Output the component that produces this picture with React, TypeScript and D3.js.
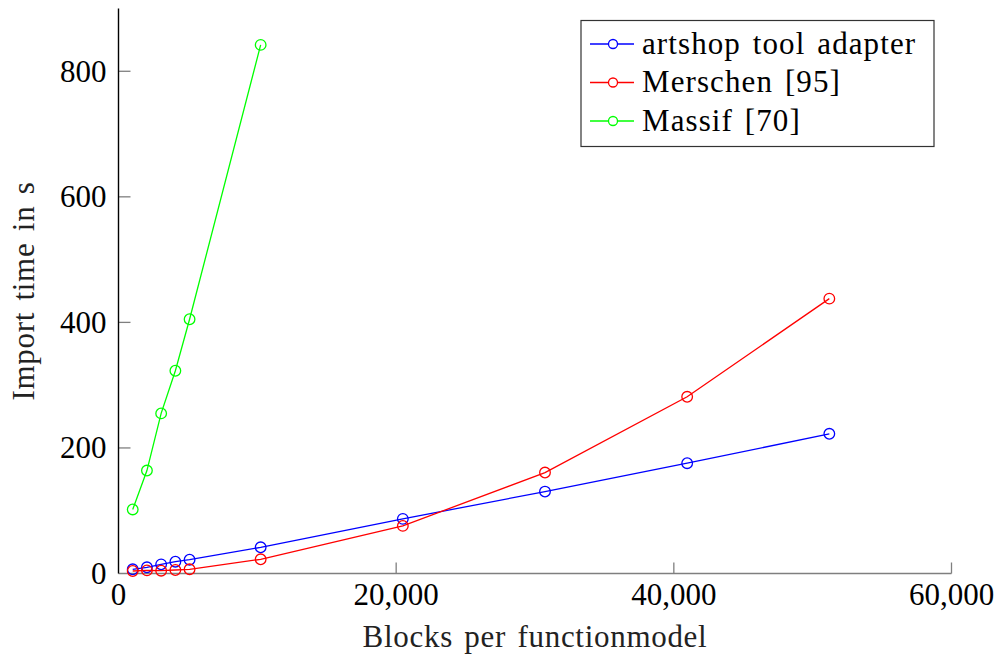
import React, { useRef, useEffect } from 'react';
import * as d3 from 'd3';

const WIDTH = 998;
const HEIGHT = 661;
const MARGIN = { top: 8.5, right: 46.5, bottom: 87.5, left: 118.5 };
const FONT = "'Liberation Serif', 'DejaVu Serif', serif";

// Blocks per functionmodel
const blocks = [1024, 2048, 3072, 4096, 5120, 10240, 20480, 30720, 40960, 51200];
// Import time in s
const artshop = [6.7, 9.9, 14.6, 18.8, 22, 41.7, 87, 130.5, 175.7, 222.5];
const merschen = [4, 5, 4.5, 5.6, 6.7, 22.6, 75.8, 160.8, 281.5, 437.8];
const massifBlocks = [1024, 2048, 3072, 4096, 5120, 10240];
const massif = [102, 164, 255, 323, 405, 842];

const xTicks = [0, 20000, 40000, 60000];
const yTicks = [0, 200, 400, 600, 800];

const seriesList = [
  { name: 'artshop tool adapter', color: '#0000ff', xs: blocks, ys: artshop },
  { name: 'Merschen [95]', color: '#ff0000', xs: blocks, ys: merschen },
  { name: 'Massif [70]', color: '#00ff00', xs: massifBlocks, ys: massif },
];

export default function App() {
  const svgRef = useRef<SVGSVGElement>(null);

  useEffect(() => {
    if (!svgRef.current) return;
    const innerW = WIDTH - MARGIN.left - MARGIN.right;
    const innerH = HEIGHT - MARGIN.top - MARGIN.bottom;

    const x = d3.scaleLinear().domain([0, 60000]).range([0, innerW]);
    const y = d3.scaleLinear().domain([0, 900]).range([innerH, 0]);

    const svg = d3.select(svgRef.current);
    svg.selectAll('*').remove();
    svg.append('rect').attr('width', WIDTH).attr('height', HEIGHT).attr('fill', 'white');

    const g = svg.append('g').attr('transform', `translate(${MARGIN.left},${MARGIN.top})`);

    // x axis (gray line, inward ticks)
    g.append('line')
      .attr('x1', 0).attr('x2', innerW)
      .attr('y1', innerH).attr('y2', innerH)
      .attr('stroke', '#7f7f7f').attr('stroke-width', 1.6);
    g.append('g').selectAll('line')
      .data(xTicks.filter(d => d > 0))
      .join('line')
      .attr('x1', d => x(d)).attr('x2', d => x(d))
      .attr('y1', innerH).attr('y2', innerH - 11)
      .attr('stroke', '#7f7f7f').attr('stroke-width', 1.3);
    g.append('g').selectAll('text')
      .data(xTicks)
      .join('text')
      .attr('x', d => x(d)).attr('y', innerH + 31.5)
      .attr('text-anchor', 'middle')
      .style('font-family', FONT).style('font-size', '31px').attr('fill', '#000')
      .text(d => d3.format(',')(d));

    // y axis (black line, inward ticks)
    g.append('g').selectAll('line')
      .data(yTicks.filter(d => d > 0))
      .join('line')
      .attr('x1', 0).attr('x2', 12)
      .attr('y1', d => y(d)).attr('y2', d => y(d))
      .attr('stroke', '#7f7f7f').attr('stroke-width', 1.3);
    g.append('line')
      .attr('x1', 0).attr('x2', 0)
      .attr('y1', 0).attr('y2', innerH)
      .attr('stroke', '#000').attr('stroke-width', 1.4);
    g.append('g').selectAll('text')
      .data(yTicks)
      .join('text')
      .attr('x', -12).attr('y', d => y(d) + 10.5)
      .attr('text-anchor', 'end')
      .style('font-family', FONT).style('font-size', '31px').attr('fill', '#000')
      .text(d => String(d));

    // series
    const line = d3.line<[number, number]>().x(d => x(d[0])).y(d => y(d[1]));
    seriesList.forEach(s => {
      const pts: [number, number][] = s.xs.map((v, i) => [v, s.ys[i]]);
      g.append('path')
        .attr('d', line(pts))
        .attr('fill', 'none')
        .attr('stroke', s.color).attr('stroke-width', 1.3);
      g.append('g').selectAll('circle')
        .data(pts)
        .join('circle')
        .attr('cx', d => x(d[0])).attr('cy', d => y(d[1]))
        .attr('r', 5.3)
        .attr('fill', 'none')
        .attr('stroke', s.color).attr('stroke-width', 1.3);
    });

    // axis labels
    svg.append('text')
      .attr('x', MARGIN.left + innerW / 2).attr('y', 647)
      .attr('text-anchor', 'middle')
      .style('font-family', FONT).style('font-size', '31px').attr('fill', '#222')
      .attr('letter-spacing', 0.7).attr('word-spacing', 3)
      .text('Blocks per functionmodel');
    svg.append('text')
      .attr('transform', `translate(33.5,${MARGIN.top + innerH / 2}) rotate(-90)`)
      .attr('text-anchor', 'middle')
      .style('font-family', FONT).style('font-size', '31px').attr('fill', '#222')
      .attr('letter-spacing', 0.7).attr('word-spacing', 3)
      .text('Import time in s');

    // legend
    const lg = svg.append('g').attr('transform', 'translate(581,20.5)');
    lg.append('rect')
      .attr('width', 353).attr('height', 126)
      .attr('fill', 'white').attr('stroke', '#333').attr('stroke-width', 1.2);
    seriesList.forEach((s, i) => {
      const cy = 23.5 + i * 38.5;
      lg.append('line')
        .attr('x1', 9).attr('x2', 53)
        .attr('y1', cy).attr('y2', cy)
        .attr('stroke', s.color).attr('stroke-width', 1.3);
      lg.append('circle')
        .attr('cx', 32).attr('cy', cy).attr('r', 4.5)
        .attr('fill', 'white')
        .attr('stroke', s.color).attr('stroke-width', 1.3);
      lg.append('text')
        .attr('x', 61).attr('y', cy + 9.5)
        .style('font-family', FONT).style('font-size', '31px').attr('fill', '#000')
        .attr('letter-spacing', 1.1).attr('word-spacing', 3)
        .text(s.name);
    });
  }, []);

  return (
    <svg
      ref={svgRef}
      width={WIDTH}
      height={HEIGHT}
      style={{ position: 'absolute', left: 0, top: 0, display: 'block' }}
    />
  );
}
